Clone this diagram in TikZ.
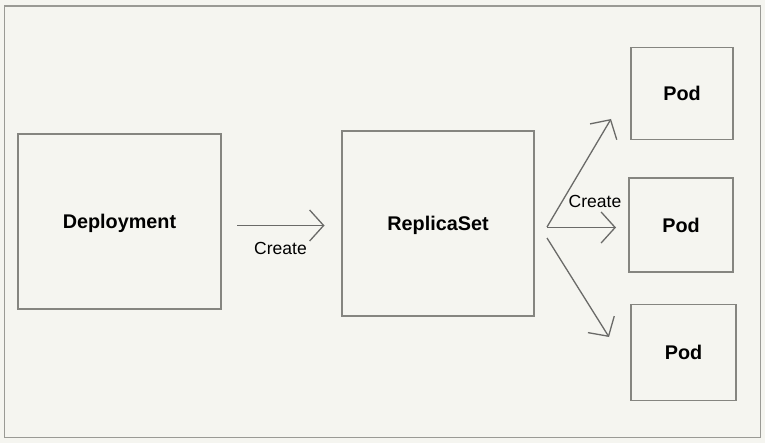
\documentclass[tikz,border=0pt]{standalone}
\usepackage{fontspec}
\setmainfont{Liberation Sans}
\usetikzlibrary{arrows.meta}
\definecolor{bgc}{HTML}{F5F5F0}
\definecolor{framec}{HTML}{9A9A95}
\definecolor{boxc}{HTML}{858580}
\definecolor{arrc}{HTML}{6A6A68}
\tikzset{
  box/.style={draw=boxc, line width=1.5pt, fill=bgc, inner sep=0pt, text height=14.2pt, text depth=0pt, font=\fontsize{19.8}{22}\selectfont\bfseries},
  conn/.style={draw=arrc, line width=1.3pt, -{Straight Barb[length=14pt,width=31pt,line width=1.3pt]}},
  lbl/.style={font=\fontsize{17.5}{19}\selectfont, text=black, inner sep=0pt}
}
\begin{document}
\begin{tikzpicture}[x=1pt,y=-1pt]
\useasboundingbox (0,0) rectangle (765,443);
\fill[bgc] (0,0) rectangle (765,443);
\draw[framec, line width=1.6pt] (4.3,6) rectangle (760.5,437.5);
\node[box, minimum width=203pt, minimum height=175pt] (dep) at (119.5,221.5) {Deployment};
\node[box, minimum width=192pt, minimum height=185pt] (rs) at (438,223.5) {ReplicaSet};
\node[box, minimum width=102pt, minimum height=92pt] (pod1) at (682,93.5) {Pod};
\node[box, minimum width=104pt, minimum height=94pt] (pod2) at (681,225) {Pod};
\node[box, minimum width=105pt, minimum height=96pt] (pod3) at (683.5,352.5) {Pod};
\coordinate (a0s) at (237,225.5);
\coordinate (a0e) at (324.5,225.5);
\coordinate (a1s) at (547,227);
\coordinate (a1e) at (611,119);
\coordinate (a2s) at (547,227.5);
\coordinate (a2e) at (616,227.5);
\coordinate (a3s) at (547,238);
\coordinate (a3e) at (609,337);
\draw[conn] (a0s) -- (a0e);
\draw[conn] (a1s) -- (a1e);
\draw[conn] (a2s) -- (a2e);
\draw[conn] (a3s) -- (a3e);
\node[lbl] (c1) at (280.5,248) {Create};
\node[lbl] (c2) at (595,201) {Create};
\end{tikzpicture}
\end{document}
